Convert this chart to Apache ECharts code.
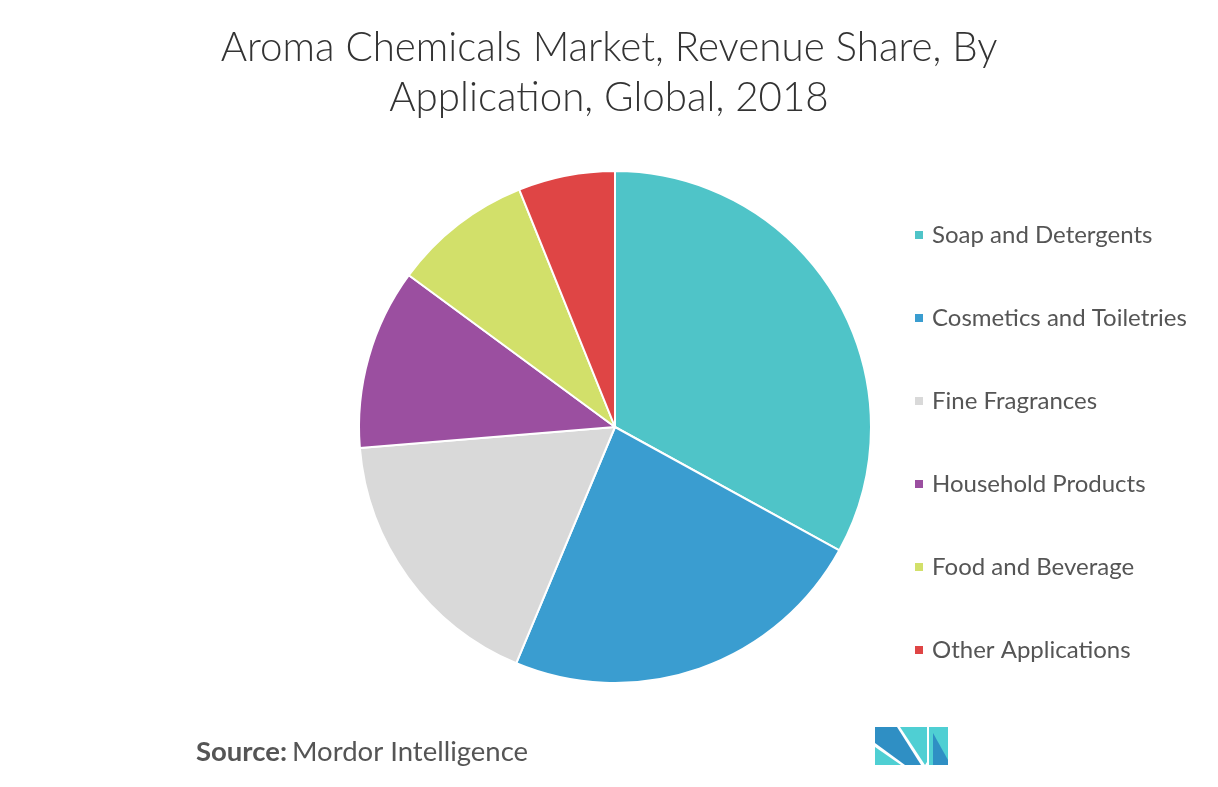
<!DOCTYPE html>
<html>
<head>
<meta charset="utf-8">
<script src="https://cdn.jsdelivr.net/npm/echarts@6/dist/echarts.min.js"></script>
<style>html,body{margin:0;padding:0;background:#fff;}#c{width:1218px;height:787px;}</style>
</head>
<body>
<div id="c"></div>
<script>
const categories = ['Soap and Detergents','Cosmetics and Toiletries','Fine Fragrances','Household Products','Food and Beverage','Other Applications'];
const values = [33.0, 23.3, 17.4, 11.4, 8.8, 6.1];
const colors = ['#4fc4c8','#3a9dd0','#d9d9d9','#9b4fa0','#d2e06a','#df4545'];
const titleText = 'Aroma Chemicals Market, Revenue Share, By\nApplication, Global, 2018';

const chart = echarts.init(document.getElementById('c'), null, {renderer:'canvas'});
const dark = '#2f8fc4', teal = '#4fcfd3';
chart.setOption({
  animation:false,
  backgroundColor:'#fff',
  color: colors,
  title: [{
    text: titleText,
    left: 'center', top: 18,
    textStyle:{fontFamily:'Lato', fontWeight:300, fontSize:40.3, lineHeight:50, color:'#333'}
  },{
    text: '{b|Source:} {n|Mordor Intelligence}',
    left: 191, top: 733,
    textStyle:{rich:{
      b:{fontFamily:'Lato', fontWeight:'bold', fontSize:27.5, color:'#555'},
      n:{fontFamily:'Lato', fontWeight:'normal', fontSize:27.5, color:'#555'}
    }}
  }],
  legend: {
    orient:'vertical', left: 913, top: 223, padding:0,
    itemWidth: 10, itemHeight: 10, itemGap: 59, icon:'rect',
    textStyle:{fontFamily:'Lato', fontSize:24, lineHeight:24, color:'#555', padding:[0,0,0,3]},
    data: categories
  },
  series: [{
    type:'pie', center:[615,427], radius:[0,256], startAngle:90, clockwise:true,
    label:{show:false}, labelLine:{show:false},
    itemStyle:{borderColor:'#fff', borderWidth:2},
    emphasis:{disabled:true},
    data: categories.map((n,i)=>({name:n, value:values[i]}))
  }],
  graphic: [
    {type:'polygon', shape:{points:[[875,727],[897,727],[921,765],[905,765],[875,743]]}, style:{fill:dark}},
    {type:'polygon', shape:{points:[[875,747],[875,765],[901,765]]}, style:{fill:teal}},
    {type:'polygon', shape:{points:[[900,727],[927,727],[927,762],[925,765]]}, style:{fill:teal}},
    {type:'rect', shape:{x:929,y:727,width:19,height:38}, style:{fill:teal}},
    {type:'polygon', shape:{points:[[933,733],[948,760],[948,765],[933,765]]}, style:{fill:dark}}
  ]
});
</script>
</body>
</html>
